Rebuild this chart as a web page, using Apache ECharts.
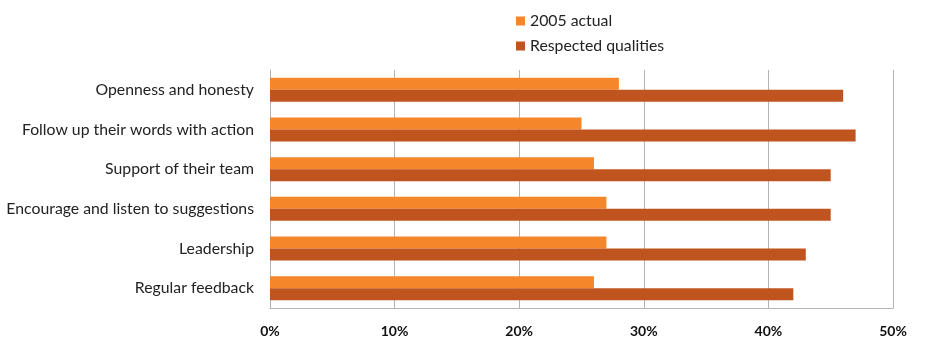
<!DOCTYPE html>
<html>
<head>
<meta charset="utf-8">
<style>
  html, body { margin: 0; padding: 0; background: #fff; }
  #chart { width: 940px; height: 345px; }
</style>
<script src="https://cdn.jsdelivr.net/npm/echarts@6/dist/echarts.min.js"></script>
</head>
<body>
<div id="chart"></div>
<script>
// Qualities, listed top to bottom
const categories = [
  'Openness and honesty',
  'Follow up their words with action',
  'Support of their team',
  'Encourage and listen to suggestions',
  'Leadership',
  'Regular feedback'
];
// Percent of respondents
const actual2005 = [28, 25, 26, 27, 27, 26];
const respected = [46, 47, 45, 45, 43, 42];
const seriesNames = ['2005 actual', 'Respected qualities'];

const FONT = 'Lato, "Noto Sans", sans-serif';

const chart = echarts.init(document.getElementById('chart'), null, { renderer: 'canvas' });
chart.setOption({
  animation: false,
  textStyle: { fontFamily: FONT },
  legend: {
    orient: 'vertical',
    left: 511,
    top: 8,
    itemWidth: 9,
    itemHeight: 9,
    itemGap: 9,
    icon: 'rect',
    textStyle: { fontSize: 15.8, color: '#222', fontFamily: FONT },
    data: seriesNames
  },
  grid: { left: 270, right: 47, top: 70, bottom: 37 },
  xAxis: {
    type: 'value',
    min: 0,
    max: 50,
    interval: 10,
    axisLine: { show: true, lineStyle: { color: '#b3b3b3' } },
    axisTick: { show: false },
    splitLine: { show: true, lineStyle: { color: '#b3b3b3' } },
    axisLabel: {
      formatter: v => v + '%',
      fontSize: 14,
      fontWeight: 'bold',
      color: '#111',
      margin: 16,
      fontFamily: FONT
    }
  },
  yAxis: {
    type: 'category',
    inverse: true,
    data: categories,
    axisLine: { show: true, lineStyle: { color: '#b3b3b3' } },
    axisTick: { show: false },
    axisLabel: { fontSize: 15.8, color: '#222', margin: 16, fontFamily: FONT }
  },
  series: [
    {
      name: seriesNames[0],
      type: 'bar',
      data: actual2005,
      barWidth: 12,
      barGap: '0%',
      itemStyle: { color: '#F5862A' }
    },
    {
      name: seriesNames[1],
      type: 'bar',
      data: respected,
      barWidth: 12,
      itemStyle: { color: '#C0541E' }
    }
  ]
});
</script>
</body>
</html>
